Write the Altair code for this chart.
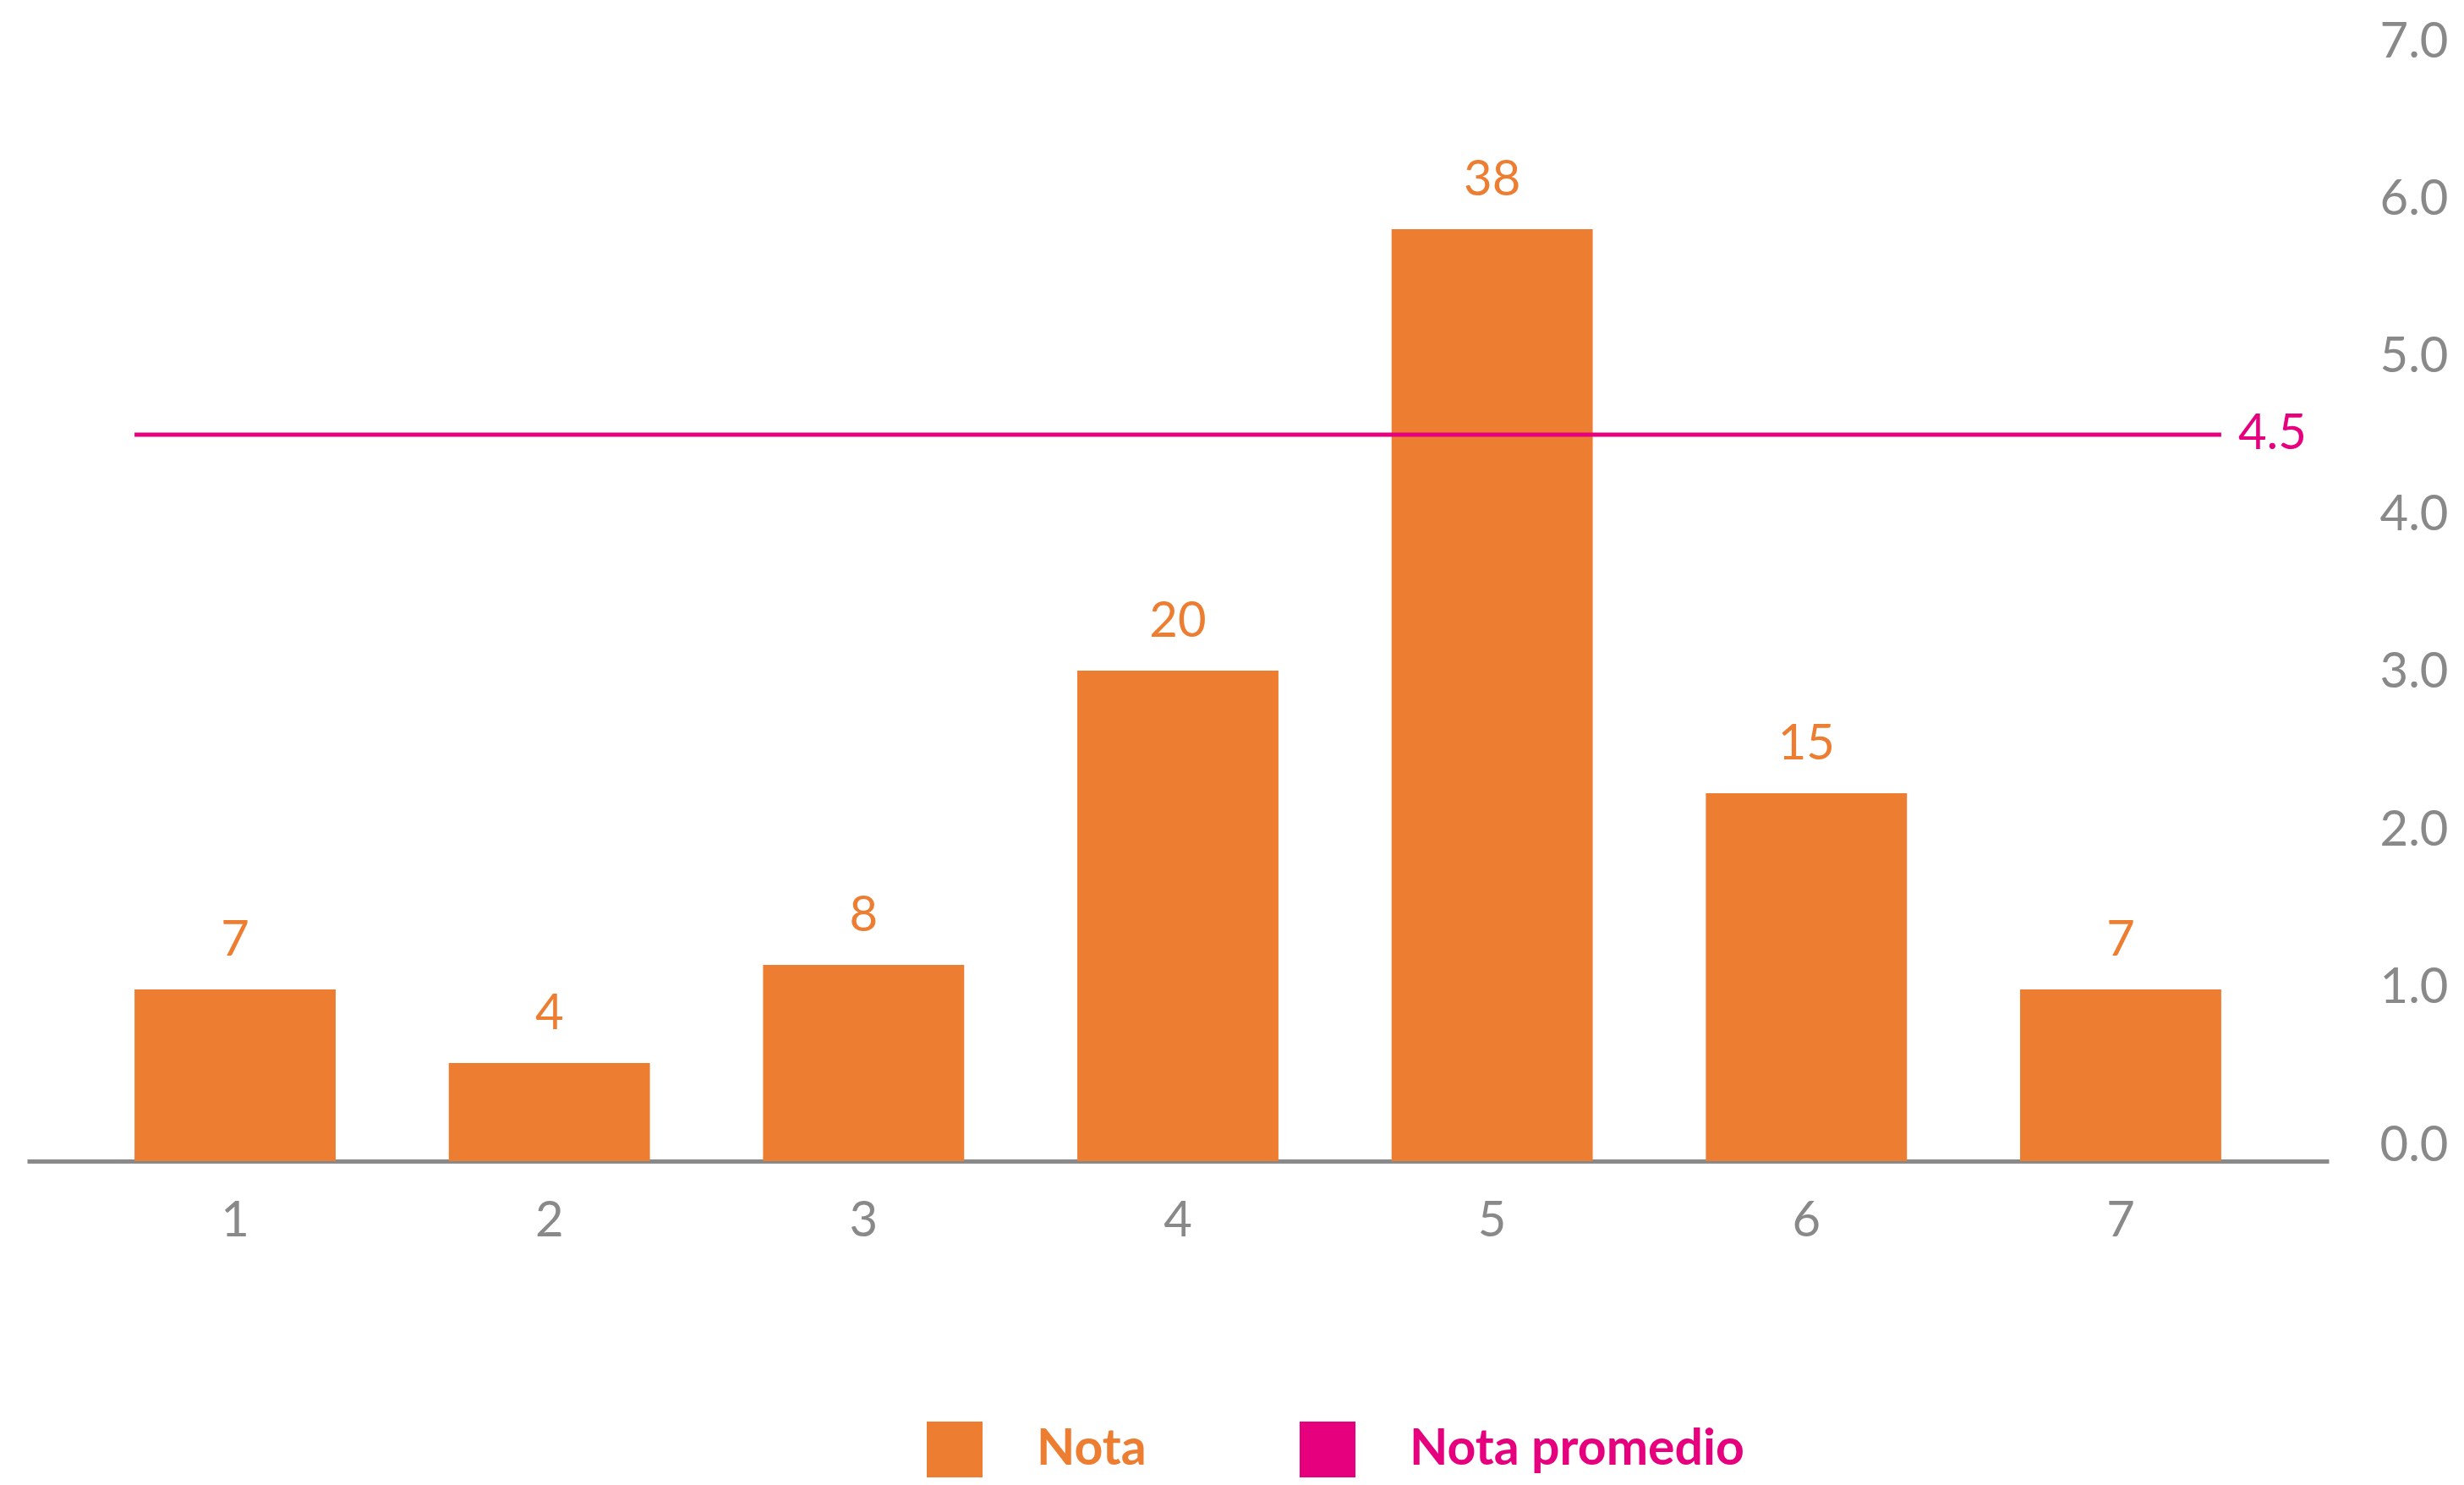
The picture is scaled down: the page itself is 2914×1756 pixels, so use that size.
import altair as alt
import pandas as pd

notas = ["1", "2", "3", "4", "5", "6", "7"]
conteos = [7, 4, 8, 20, 38, 15, 7]
promedio = 4.5
eje_der = [0, 1, 2, 3, 4, 5, 6, 7]
series = ["Nota", "Nota promedio"]

NARANJA = "#ED7D31"
ROSA = "#E6007E"
GRIS = "#898989"
FUENTE = "Lato"

df = pd.DataFrame({"nota": notas, "conteo": conteos, "serie": "Nota"})
dprom = pd.DataFrame({"ini": [notas[0]], "fin": [notas[-1]], "prom": [promedio]})

xscale = alt.Scale(domain=notas, paddingInner=0.36, paddingOuter=0.342)
ybar = alt.Scale(domain=[0, 45])
ylin = alt.Scale(domain=[0, 7])

x_axis = alt.Axis(
    title=None, orient="bottom", labelAngle=0, ticks=False, grid=False,
    domainColor=GRIS, domainWidth=5, labelColor=GRIS, labelFont=FUENTE,
    labelFontSize=58, labelPadding=71, labelBaseline="middle",
)

bars = alt.Chart(df).mark_bar(color=NARANJA).encode(
    x=alt.X("nota:N", scale=xscale, axis=x_axis, sort=notas),
    y=alt.Y("conteo:Q", scale=ybar, axis=None),
    color=alt.Color(
        "serie:N",
        scale=alt.Scale(domain=series, range=[NARANJA, ROSA]),
        legend=alt.Legend(
            title=None, orient="none", legendX=1064, legendY=1613,
            direction="horizontal", symbolType="square", symbolSize=4356,
            symbolStrokeWidth=0, labelFont=FUENTE, labelFontSize=59,
            labelFontWeight="bold", labelOffset=64, columnPadding=181,
            padding=0, labelLimit=1000,
            labelColor={"expr": "datum.value === 'Nota' ? '#ED7D31' : '#E6007E'"},
        ),
    ),
)

bar_text = alt.Chart(df).mark_text(
    color=NARANJA, font=FUENTE, fontSize=58, dy=-57, baseline="middle", align="center"
).encode(
    x=alt.X("nota:N", scale=xscale, sort=notas),
    y=alt.Y("conteo:Q", scale=ybar, axis=None),
    text=alt.Text("conteo:Q"),
)

rule = alt.Chart(dprom).mark_rule(color=ROSA, strokeWidth=5, yOffset=-20).encode(
    x=alt.X("ini:N", scale=xscale, bandPosition=0),
    x2=alt.X2("fin", bandPosition=1),
    y=alt.Y(
        "prom:Q", scale=ylin,
        axis=alt.Axis(
            title=None, orient="right", values=eje_der, format=".1f",
            ticks=False, domain=False, grid=False, labelColor=GRIS,
            labelFont=FUENTE, labelFontSize=58, labelAlign="right",
            labelPadding=141, labelOffset=-18, labelBaseline="middle",
        ),
    ),
)

rule_text = alt.Chart(dprom).mark_text(
    color=ROSA, font=FUENTE, fontSize=58, dx=20, yOffset=-20, align="left", baseline="middle"
).encode(
    x=alt.X("fin:N", scale=xscale, bandPosition=1),
    y=alt.Y("prom:Q", scale=ylin, axis=None),
    text=alt.Text("prom:Q", format=".1f"),
)

chart = alt.layer(bars, bar_text, rule, rule_text).resolve_scale(
    y="independent"
).properties(
    width=2722, height=1305,
    autosize=alt.AutoSizeParams(type="none"),
    padding={"left": 24, "top": 60, "right": 152, "bottom": 375},
).configure_view(stroke=None)

chart.save("out.html", embed_options={"renderer": "svg", "actions": False})
